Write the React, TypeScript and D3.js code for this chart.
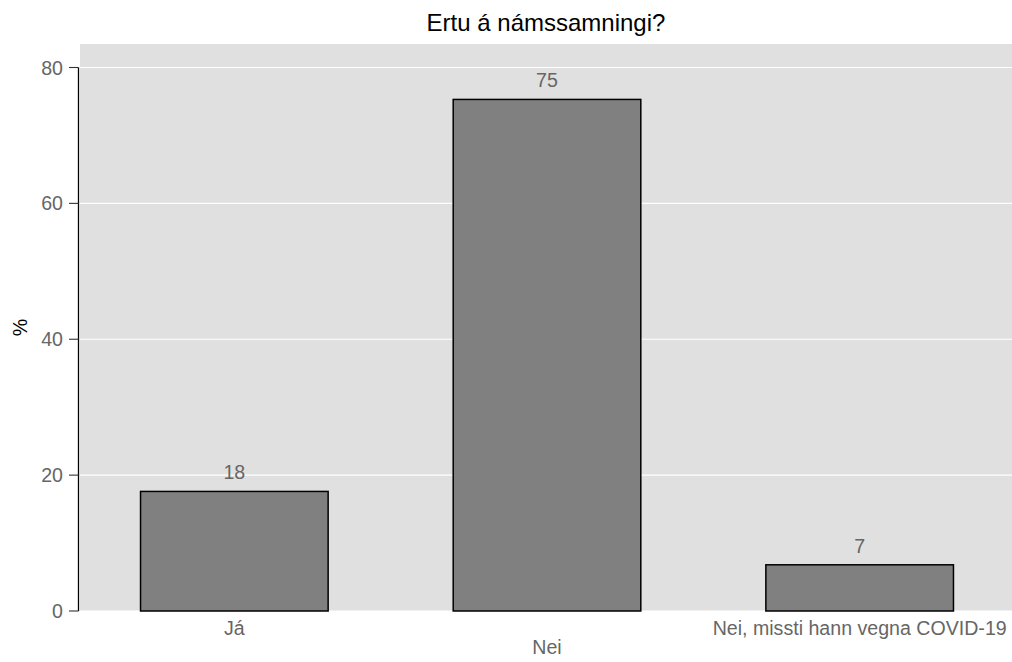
import React from "react";
import * as d3 from "d3";

const categories = ["Já", "Nei", "Nei, missti hann vegna COVID-19"];
const values = [17.6, 75.3, 6.8];
const valueLabels = ["18", "75", "7"];
const yTicks = [0, 20, 40, 60, 80];
const title = "Ertu á námssamningi?";
const yTitle = "%";

export default function App() {
  const W = 1012;
  const H = 662;
  const panel = { left: 80, right: 1012, top: 44, bottom: 611 };
  const y = d3.scaleLinear().domain([0, 80]).range([611, 67.5]);
  const x = d3
    .scaleBand<string>()
    .domain(categories)
    .range([78, 1016])
    .paddingInner(0.4)
    .paddingOuter(0.2);
  const font = "'Liberation Sans', Arial, Helvetica, sans-serif";
  const grey = "#666666";
  const fs = 19.6;
  return (
    <svg
      width={W}
      height={H}
      style={{ position: "absolute", left: 0, top: 0, fontFamily: font }}
    >
      <rect x={0} y={0} width={W} height={H} fill="#ffffff" />
      <rect
        x={panel.left}
        y={panel.top}
        width={panel.right - panel.left}
        height={panel.bottom - panel.top}
        fill="#e0e0e0"
      />
      {yTicks.map((t) => (
        <line
          key={"g" + t}
          x1={panel.left}
          x2={panel.right}
          y1={y(t)}
          y2={y(t)}
          stroke="#ffffff"
          strokeWidth={1.1}
        />
      ))}
      {categories.map((c, i) => {
        const x0 = x(c)!;
        const bw = x.bandwidth();
        const top = y(values[i]);
        return (
          <g key={c}>
            <rect
              x={x0}
              y={top}
              width={bw}
              height={y(0) - top}
              fill="#808080"
              stroke="#000000"
              strokeWidth={1.5}
            />
            <text
              x={x0 + bw / 2}
              y={top - 12}
              textAnchor="middle"
              fontSize={fs}
              fill={grey}
            >
              {valueLabels[i]}
            </text>
            <text
              x={x0 + bw / 2}
              y={i % 2 === 0 ? 635 : 654}
              textAnchor="middle"
              fontSize={fs}
              fill={grey}
            >
              {c}
            </text>
          </g>
        );
      })}
      <line
        x1={78.5}
        x2={78.5}
        y1={y(0)}
        y2={y(80)}
        stroke="#000000"
        strokeWidth={1.3}
      />
      {yTicks.map((t) => (
        <g key={"t" + t}>
          <line
            x1={69}
            x2={78.5}
            y1={y(t)}
            y2={y(t)}
            stroke="#333333"
            strokeWidth={1.1}
          />
          <text
            x={63}
            y={y(t)}
            dy="0.36em"
            textAnchor="end"
            fontSize={fs}
            fill={grey}
          >
            {t}
          </text>
        </g>
      ))}
      <text
        transform={`translate(27, ${(panel.top + panel.bottom) / 2}) rotate(-90)`}
        textAnchor="middle"
        fontSize={fs}
        fill="#000000"
      >
        {yTitle}
      </text>
      <text
        x={(panel.left + panel.right) / 2}
        y={31}
        textAnchor="middle"
        fontSize={24}
        fill="#000000"
      >
        {title}
      </text>
    </svg>
  );
}
